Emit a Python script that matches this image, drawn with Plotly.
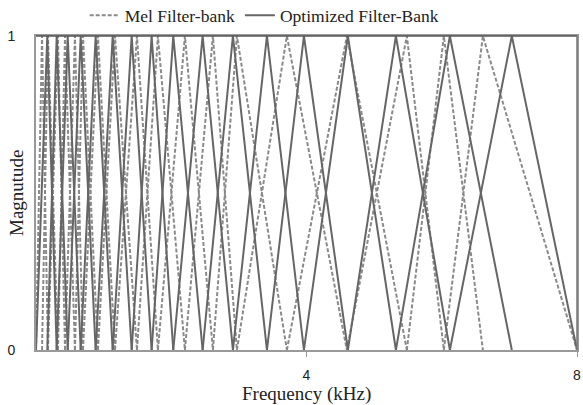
import plotly.graph_objects as go

# Filter centre frequencies (kHz)
mel_centers = [0.089, 0.177, 0.325, 0.429, 0.576, 0.695, 0.916, 1.168, 1.493, 1.803,
               2.202, 2.616, 2.971, 3.71, 4.597, 5.484, 6.031, 6.608]
opt_centers = [0.167, 0.306, 0.469, 0.661, 0.882, 1.134, 1.415, 1.710, 2.030, 2.464,
               2.912, 3.415, 3.962, 4.612, 5.322, 6.120, 7.036]
f_min, f_max = 0.0, 8.0
x_ticks = [4, 8]
y_ticks = [0, 1]


def triangles(centers):
    edges = [f_min] + centers + [f_max]
    xs, ys = [], []
    for i in range(1, len(edges) - 1):
        xs += [edges[i - 1], edges[i], edges[i + 1], None]
        ys += [0, 1, 0, None]
    return xs, ys


mx, my = triangles(mel_centers)
ox, oy = triangles(opt_centers)

serif = "Liberation Serif"
sans = "Liberation Sans"

fig = go.Figure()
fig.add_trace(go.Scatter(x=mx, y=my, mode="lines", name="Mel Filter-bank",
                         line=dict(color="#8a8a8a", width=2, dash="4px,2px")))
fig.add_trace(go.Scatter(x=ox, y=oy, mode="lines", name="Optimized Filter-Bank",
                         line=dict(color="#666666", width=2)))

fig.update_layout(
    width=583, height=405,
    margin=dict(l=36, r=6, t=36, b=55),
    paper_bgcolor="white", plot_bgcolor="white",
    showlegend=True,
    legend=dict(orientation="h", x=0.09, xanchor="left",
                yref="container", y=0.962, yanchor="middle",
                font=dict(family=serif, size=17.5, color="#222"),
                itemwidth=30, tracegroupgap=0, bgcolor="rgba(0,0,0,0)",
                borderwidth=0),
    xaxis=dict(range=[f_min, f_max], tickvals=x_ticks, showgrid=False, zeroline=False,
               showline=True, linecolor="#999", linewidth=2, mirror=True,
               ticks="outside", ticklen=5, tickcolor="#999", automargin=False,
               ticklabelstandoff=6,
               tickfont=dict(family=sans, size=14, color="#222")),
    yaxis=dict(range=[0, 1], tickvals=y_ticks, showgrid=False, zeroline=False,
               showline=True, linecolor="#999", linewidth=2, mirror=True,
               ticks="", automargin=False, ticklabelstandoff=16,
               tickfont=dict(family=sans, size=14, color="#222")),
    shapes=[
        dict(type="line", xref="paper", yref="paper", x0=0, x1=1, y0=1, y1=1,
             line=dict(color="#555555", width=1.5), layer="above"),
        dict(type="line", xref="paper", yref="paper", x0=1, x1=1, y0=0, y1=1,
             line=dict(color="#777777", width=1.5), layer="above"),
    ],
    annotations=[
        dict(text="Frequency (kHz)", xref="paper", yref="paper", x=0.5, y=0,
             yshift=-44, xanchor="center", yanchor="middle", showarrow=False,
             font=dict(family=serif, size=19, color="#222")),
        dict(text="Magnutude", xref="paper", yref="paper", x=0, y=0.5,
             xshift=-20, textangle=-90, xanchor="center", yanchor="middle",
             showarrow=False, font=dict(family=serif, size=19, color="#222")),
    ],
)

fig.write_html("out.html", config={"displayModeBar": False},
               post_script="document.body.style.margin='0';document.body.style.overflow='hidden';")
